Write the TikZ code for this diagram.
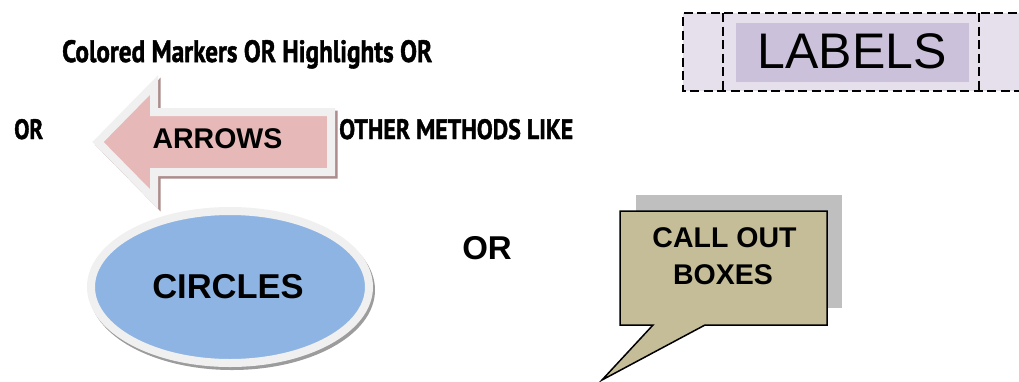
\documentclass[tikz,border=0pt]{standalone}
\usepackage{fontspec}
\setmainfont{Liberation Sans}
\newfontfamily\condfont{PT Sans}[BoldFeatures={FakeBold=1.6}]
\usepackage{graphicx}
\definecolor{arrowpink}{HTML}{E6B9B8}
\definecolor{arrowshadow}{HTML}{AD8C8C}
\definecolor{rimgrey}{HTML}{F0F0F0}
\definecolor{ellblue}{HTML}{8EB4E3}
\definecolor{ellshadow}{HTML}{9C9C9C}
\definecolor{calloutfill}{HTML}{C4BD97}
\definecolor{calloutshadow}{HTML}{BFBFBF}
\definecolor{labelouter}{HTML}{E5E0EC}
\definecolor{labelinner}{HTML}{CCC1DA}
\tikzset{
  condtext/.style={inner sep=0pt, anchor=base west, font=\condfont\bfseries},
  boldtext/.style={inner sep=0pt, anchor=base, font=\bfseries},
  dashline/.style={draw=black, line width=1.8pt, dash pattern=on 9pt off 4.5pt},
}
\begin{document}
\begin{tikzpicture}[x=1pt,y=-1pt]
\clip (0,0) rectangle (1019,381);
\fill[white] (0,0) rectangle (1019,381);

% ---- top-left text ----
\node[condtext] (t1) at (62,62) {\resizebox{370pt}{22pt}{\fontsize{28}{30}\selectfont Colored Markers OR Highlights OR}};
\node[condtext] (t2) at (14,139) {\resizebox{29pt}{20pt}{\fontsize{28}{30}\selectfont OR}};
\node[condtext] (t3) at (339,139) {\resizebox{234pt}{20pt}{\fontsize{28}{30}\selectfont OTHER METHODS LIKE}};

% ---- arrow ----
\def\arrowpath{(98,142) -- (154,85) -- (154,112) -- (331,112) -- (331,172) -- (154,172) -- (154,199) -- cycle}
\begin{scope}[shift={(2.5,2.5)}]
  \filldraw[fill=arrowshadow, draw=arrowshadow, line width=8pt, line join=miter] \arrowpath;
\end{scope}
\filldraw[fill=arrowpink, draw=rimgrey, line width=8pt, line join=miter] \arrowpath;
\node[boldtext, font=\fontsize{28.5}{30}\selectfont\bfseries] (arrows) at (217.5,148) {ARROWS};

% ---- ellipse ----
\filldraw[fill=ellshadow, draw=ellshadow, line width=8pt] (232,290) ellipse [x radius=139, y radius=76];
\filldraw[fill=ellblue, draw=rimgrey, line width=8pt] (230,287) ellipse [x radius=139, y radius=76];
\node[boldtext, font=\fontsize{34.5}{36}\selectfont\bfseries] (circles) at (228,298) {CIRCLES};

% ---- middle OR ----
\node[boldtext, font=\fontsize{33}{35}\selectfont\bfseries] (or) at (487,259) {OR};

% ---- callout ----
\fill[calloutshadow] (636,195) rectangle (842,308);
\filldraw[fill=calloutfill, draw=black, line width=1.5pt, line join=miter]
  (620,211) -- (827,211) -- (827,325) -- (705,325) -- (602,380) -- (653,325) -- (620,325) -- cycle;
\node[boldtext, font=\fontsize{28.5}{30}\selectfont\bfseries] (callA) at (724.5,247) {CALL OUT};
\node[boldtext, font=\fontsize{28.5}{30}\selectfont\bfseries] (callB) at (723,284) {BOXES};

% ---- labels ----
\fill[labelouter] (683,13) rectangle (1030,91);
\draw[dashline] (1030,13) -- (683,13) -- (683,91) -- (1030,91);
\draw[dashline] (723,13) -- (723,91);
\draw[dashline] (979,13) -- (979,91);
\fill[labelinner] (736,23) rectangle (969,82);
\node[inner sep=0pt, anchor=base, font=\fontsize{50}{52}\selectfont] (labels) at (852,68) {LABELS};
\end{tikzpicture}
\end{document}
